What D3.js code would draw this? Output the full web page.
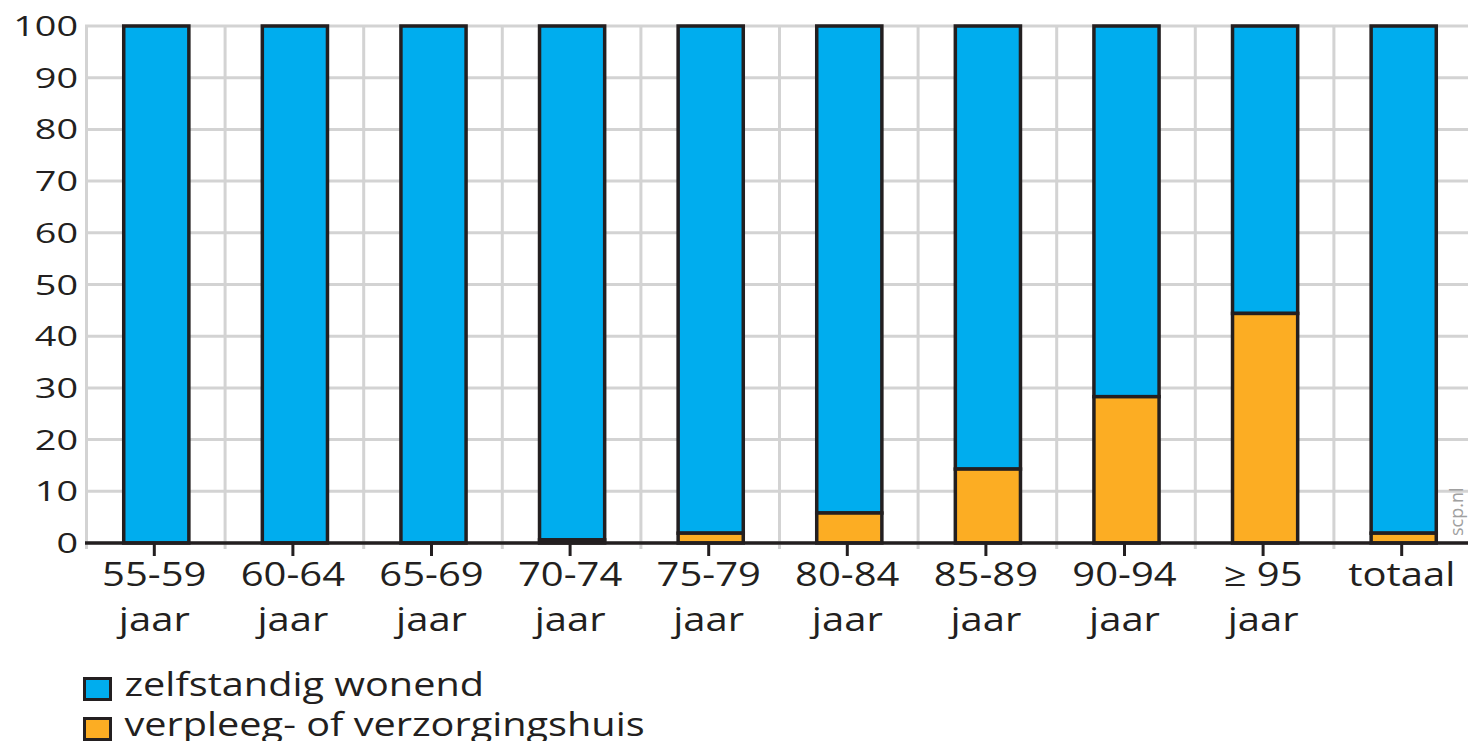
<!DOCTYPE html>
<html>
<head>
<meta charset="utf-8">
<script src="https://cdn.jsdelivr.net/npm/d3@7"></script>
<style>
    body { margin: 0; background: #fff; }
    svg text { font-family: "Open Sans", sans-serif; fill: #231f20; }
</style>
</head>
<body>
<div id="chart"></div>
<script>
// categories, two lines per tick label
const categories = ['55-59', '60-64', '65-69', '70-74', '75-79', '80-84', '85-89', '90-94', '≥ 95', 'totaal'];
const secondLine = ['jaar', 'jaar', 'jaar', 'jaar', 'jaar', 'jaar', 'jaar', 'jaar', 'jaar', ''];

// percentage per series
const verpleeg = [0, 0, 0, 0.6, 1.9, 5.8, 14.3, 28.3, 44.4, 1.9];
const zelfstandig = [100, 100, 100, 99.4, 98.1, 94.2, 85.7, 71.7, 55.6, 98.1];

const yTicks = [0, 10, 20, 30, 40, 50, 60, 70, 80, 90, 100];

const seriesNames = ['zelfstandig wonend', 'verpleeg- of verzorgingshuis'];
const seriesColors = ['#00adee', '#fcad23'];

const width = 1468;
const height = 741;
const ink = '#231f20';
const grid = '#d3d3d3';

// the source picture is stretched sideways, so text gets a horizontal scale
function stretched(sel, sx) {
    return sel.attr('transform', d => 'translate(' + d.tx + ',' + d.ty + ') scale(' + sx + ',1)');
}

const svg = d3.select('#chart')
    .append('svg')
    .attr('width', width)
    .attr('height', height);

const x = d3.scaleBand()
    .domain(categories)
    .range([85, 1471])
    .padding(0);

const y = d3.scaleLinear()
    .domain([0, 100])
    .range([543, 26]);

const barW = x.bandwidth() * 0.47;
const mid = c => x(c) + x.bandwidth() / 2;

// horizontal grid
svg.append('g')
    .selectAll('line')
    .data(yTicks)
    .enter()
    .append('line')
    .attr('x1', x.range()[0])
    .attr('x2', width)
    .attr('y1', d => y(d))
    .attr('y2', d => y(d))
    .style('stroke', grid)
    .style('stroke-width', 3);

// vertical grid on band edges
svg.append('g')
    .selectAll('line')
    .data(categories)
    .enter()
    .append('line')
    .attr('x1', d => x(d) + 1.5)
    .attr('x2', d => x(d) + 1.5)
    .attr('y1', y(100))
    .attr('y2', y(0) + 6)
    .style('stroke', grid)
    .style('stroke-width', 3);

// stacked bars
const rows = categories.map((c, i) => ({ cat: c, zelf: zelfstandig[i], verpleeg: verpleeg[i] }));
const layers = d3.stack().keys(['zelf', 'verpleeg']).order(d3.stackOrderReverse)(rows);

svg.append('g')
    .selectAll('g')
    .data(layers)
    .enter()
    .append('g')
    .style('fill', d => d.key === 'zelf' ? seriesColors[0] : seriesColors[1])
    .selectAll('rect')
    .data(d => d)
    .enter()
    .append('rect')
    .attr('x', d => mid(d.data.cat) - barW / 2 + 2)
    .attr('width', barW)
    .attr('y', d => y(d[1]))
    .attr('height', d => Math.max(0, y(d[0]) - y(d[1])))
    .style('stroke', ink)
    .style('stroke-width', 3.5);

// x axis line and ticks
svg.append('line')
    .attr('x1', x.range()[0])
    .attr('x2', width)
    .attr('y1', y(0))
    .attr('y2', y(0))
    .style('stroke', ink)
    .style('stroke-width', 3.5);

svg.append('g')
    .selectAll('line')
    .data(categories)
    .enter()
    .append('line')
    .attr('x1', d => mid(d))
    .attr('x2', d => mid(d))
    .attr('y1', y(0))
    .attr('y2', y(0) + 13)
    .style('stroke', ink)
    .style('stroke-width', 3);

// x labels, two lines
const xLabels = [];
categories.forEach((c, i) => {
    xLabels.push({ text: c, tx: mid(c), ty: 586 });
    if (secondLine[i]) xLabels.push({ text: secondLine[i], tx: mid(c), ty: 631 });
});

stretched(svg.append('g')
    .selectAll('text')
    .data(xLabels)
    .enter()
    .append('text')
    .attr('text-anchor', 'middle')
    .style('font-size', '32px')
    .text(d => d.text), 1.25);

// y labels
stretched(svg.append('g')
    .selectAll('text')
    .data(yTicks.map(v => ({ text: v, tx: 78, ty: y(v) + 10 })))
    .enter()
    .append('text')
    .attr('text-anchor', 'end')
    .style('font-size', '28px')
    .text(d => d.text), 1.35);

// watermark
svg.append('text')
    .attr('transform', 'translate(1463,536) rotate(-90)')
    .style('font-size', '18px')
    .style('fill', '#a0a0a0')
    .text('scp.nl');

// legend
const legend = svg.append('g')
    .selectAll('g')
    .data(seriesNames)
    .enter()
    .append('g')
    .attr('transform', (d, i) => 'translate(84.5,' + (678.5 + i * 40) + ')');

legend.append('rect')
    .attr('width', 26)
    .attr('height', 21)
    .style('fill', (d, i) => seriesColors[i])
    .style('stroke', ink)
    .style('stroke-width', 3);

stretched(legend.append('text')
    .datum(d => ({ text: d, tx: 40, ty: 17 }))
    .style('font-size', '32px')
    .text(d => d.text), 1.24);
</script>
</body>
</html>
